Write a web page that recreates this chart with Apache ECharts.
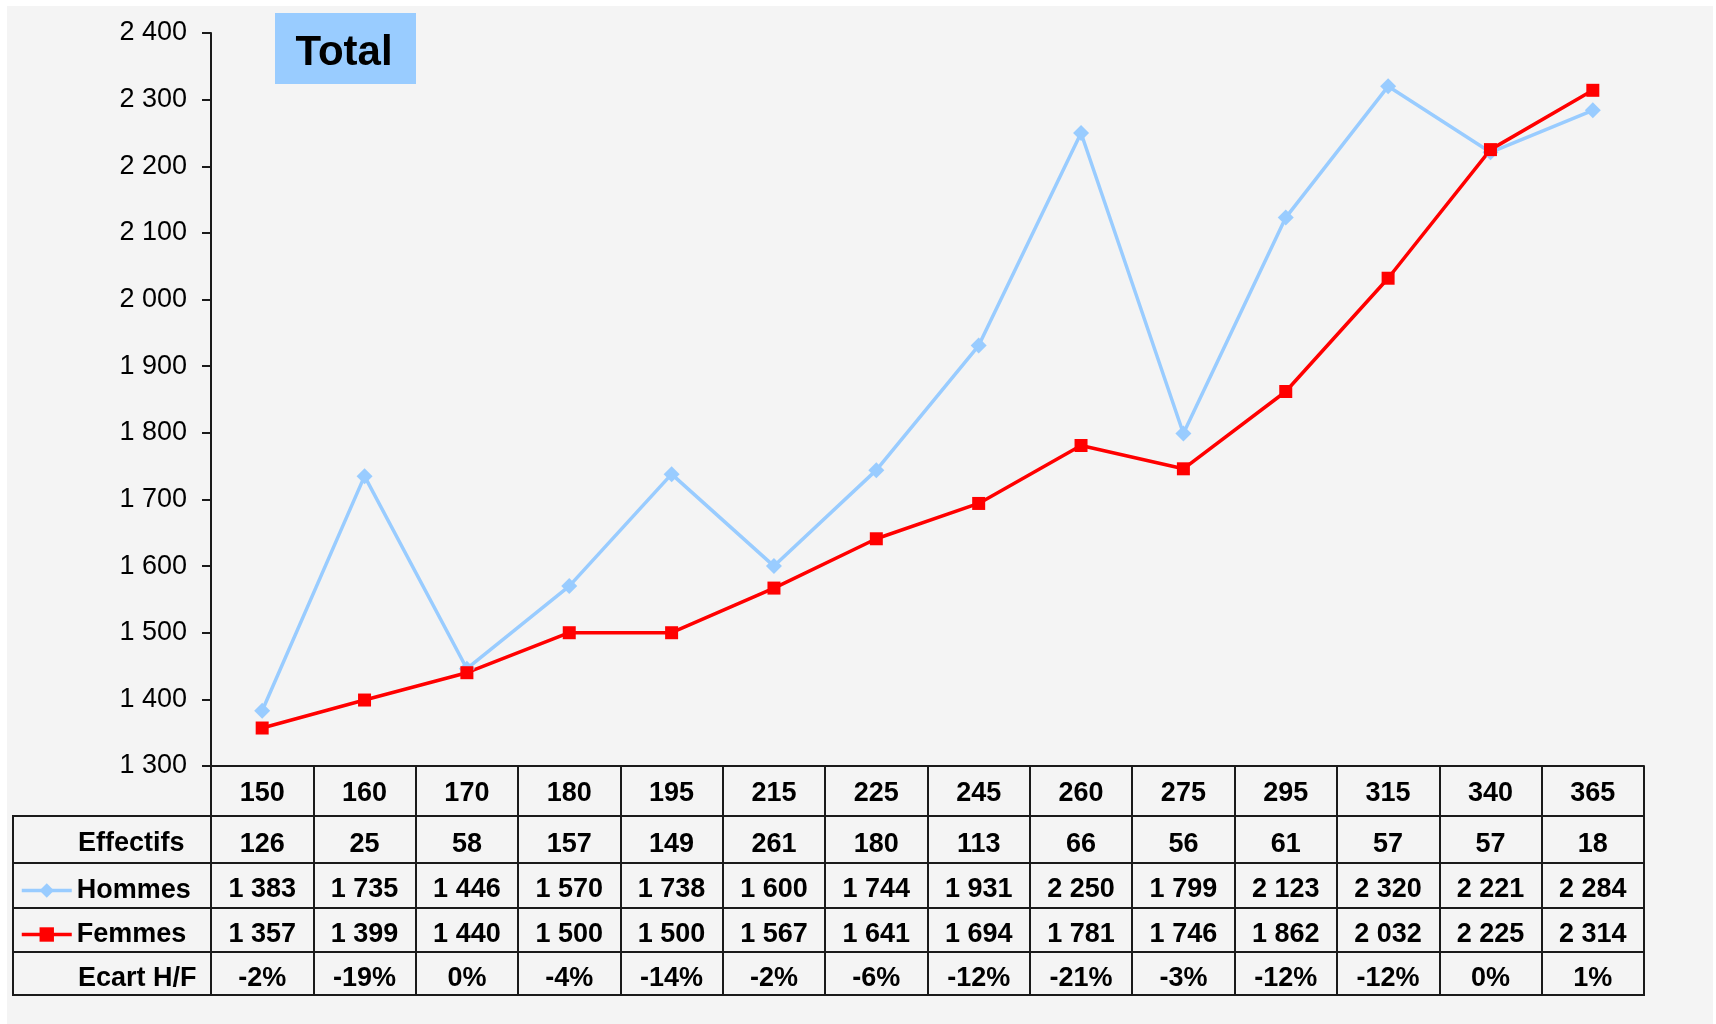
<!DOCTYPE html>
<html>
<head>
<meta charset="utf-8">
<script src="https://cdn.jsdelivr.net/npm/echarts@6/dist/echarts.min.js"></script>
<style>
html,body{margin:0;padding:0;background:#fff;}
#chart{width:1716px;height:1024px;}
</style>
</head>
<body>
<div id="chart"></div>
<script>
// ---- data ----
const categories = ['150','160','170','180','195','215','225','245','260','275','295','315','340','365'];
const effectifs = [126,25,58,157,149,261,180,113,66,56,61,57,57,18];
const hommes = [1383,1735,1446,1570,1738,1600,1744,1931,2250,1799,2123,2320,2221,2284];
const femmes = [1357,1399,1440,1500,1500,1567,1641,1694,1781,1746,1862,2032,2225,2314];
const ecart = [-2,-19,0,-4,-14,-2,-6,-12,-21,-3,-12,-12,0,1];
const yTicks = {min:1300, max:2400, interval:100};
const rowLabels = ['Effectifs','Hommes','Femmes','Ecart H/F'];
const titleText = 'Total';

// ---- helpers ----
const FONT = '"Liberation Sans", Arial, sans-serif';
const fmt = n => String(n).replace(/\B(?=(\d{3})+(?!\d))/g, ' ');
const LINE = '#1a1a1a';
const TFS = 27;

// table layout (pixels)
const gridLeft = 211, gridRight = 1644, axisY = 766;
const rowTops = [766, 816, 863, 908, 952, 995];
const tableLeft = 13;

function rowAxis(data, idx, formatter, margin) {
  const top = rowTops[idx], h = rowTops[idx+1] - rowTops[idx];
  return {
    type:'category', gridIndex:0, position:'bottom', offset: top - axisY,
    data: data, boundaryGap:true,
    axisLine:{show:true, onZero:false, lineStyle:{color:LINE, width:2}},
    axisTick:{show:true, interval:0, length:h, lineStyle:{color:LINE, width:2}},
    axisLabel:{interval:0, margin:margin, color:'#000', fontFamily:FONT, fontWeight:'bold', fontSize:TFS, formatter: formatter},
    splitLine:{show:false}, axisPointer:{show:false}, silent:true
  };
}

const graphics = [
  {type:'rect', shape:{x:7,y:6,width:1706,height:1030}, style:{fill:'#f4f4f4'}, z:-10, silent:true}
];
// horizontal lines in the header column
[1,2,3,4,5].forEach(i => {
  graphics.push({type:'line', shape:{x1:tableLeft, y1:rowTops[i], x2: i===5 ? gridRight+1 : gridLeft+1, y2:rowTops[i]}, style:{stroke:LINE, lineWidth:2}, z:10});
});
graphics.push({type:'line', shape:{x1:tableLeft, y1:rowTops[1]-1, x2:tableLeft, y2:rowTops[5]+1}, style:{stroke:LINE, lineWidth:2}, z:10});
graphics.push({type:'line', shape:{x1:gridLeft, y1:rowTops[1], x2:gridLeft, y2:rowTops[5]}, style:{stroke:LINE, lineWidth:2}, z:10});
// row headers that are not legend items
[[0,1,-9],[3,4,-8]].forEach(([li,ri,dy]) => {
  graphics.push({type:'text', left:78, top:(rowTops[ri]+rowTops[ri+1])/2 + dy,
    style:{text:rowLabels[li], font:'bold ' + TFS + 'px ' + FONT, fill:'#000'}, z:10});
});
// title box
graphics.push({type:'group', left:275, top:13, children:[
  {type:'rect', shape:{x:0,y:0,width:141,height:71}, style:{fill:'#99ccff'}},
  {type:'text', x:69, y:40, style:{text:titleText, font:'bold 42px ' + FONT, fill:'#000', align:'center', verticalAlign:'middle'}}
]});

const legendBase = {left:20, itemWidth:50, itemHeight:18, padding:0,
  lineStyle:{width:3.5},
  textStyle:{fontFamily:FONT, fontWeight:'bold', fontSize:TFS, color:'#000'}};

const chart = echarts.init(document.getElementById('chart'), null, {renderer:'canvas'});
chart.setOption({
  backgroundColor:'#ffffff',
  animation:false,
  textStyle:{fontFamily:FONT},
  grid:{left:gridLeft, right:1716-gridRight, top:33, bottom:1024-axisY, outerBoundsMode:'none', containLabel:false},
  legend:[
    Object.assign({data:[rowLabels[1]], top:877}, legendBase),
    Object.assign({data:[rowLabels[2]], top:921}, legendBase)
  ],
  xAxis:[
    rowAxis(categories, 0, v => v, 14),
    rowAxis(effectifs, 1, v => v, 15),
    rowAxis(hommes, 2, v => fmt(v), 13),
    rowAxis(femmes, 3, v => fmt(v), 13),
    rowAxis(ecart, 4, v => v + '%', 13)
  ],
  yAxis:{
    type:'value', min:yTicks.min, max:yTicks.max, interval:yTicks.interval,
    axisLine:{show:true, lineStyle:{color:LINE, width:2}},
    axisTick:{show:true, length:9, lineStyle:{color:LINE, width:2}},
    axisLabel:{margin:24, color:'#000', fontFamily:FONT, fontSize:27, formatter: v => fmt(v)},
    splitLine:{show:false}
  },
  series:[
    {name:rowLabels[1], type:'line', xAxisIndex:0, data:hommes, symbol:'diamond', symbolSize:16,
     lineStyle:{color:'#99ccff', width:3.5}, itemStyle:{color:'#99ccff'}},
    {name:rowLabels[2], type:'line', xAxisIndex:0, data:femmes, symbol:'rect', symbolSize:13,
     lineStyle:{color:'#ff0000', width:3.5}, itemStyle:{color:'#ff0000'}}
  ],
  graphic:graphics
});
</script>
</body>
</html>
